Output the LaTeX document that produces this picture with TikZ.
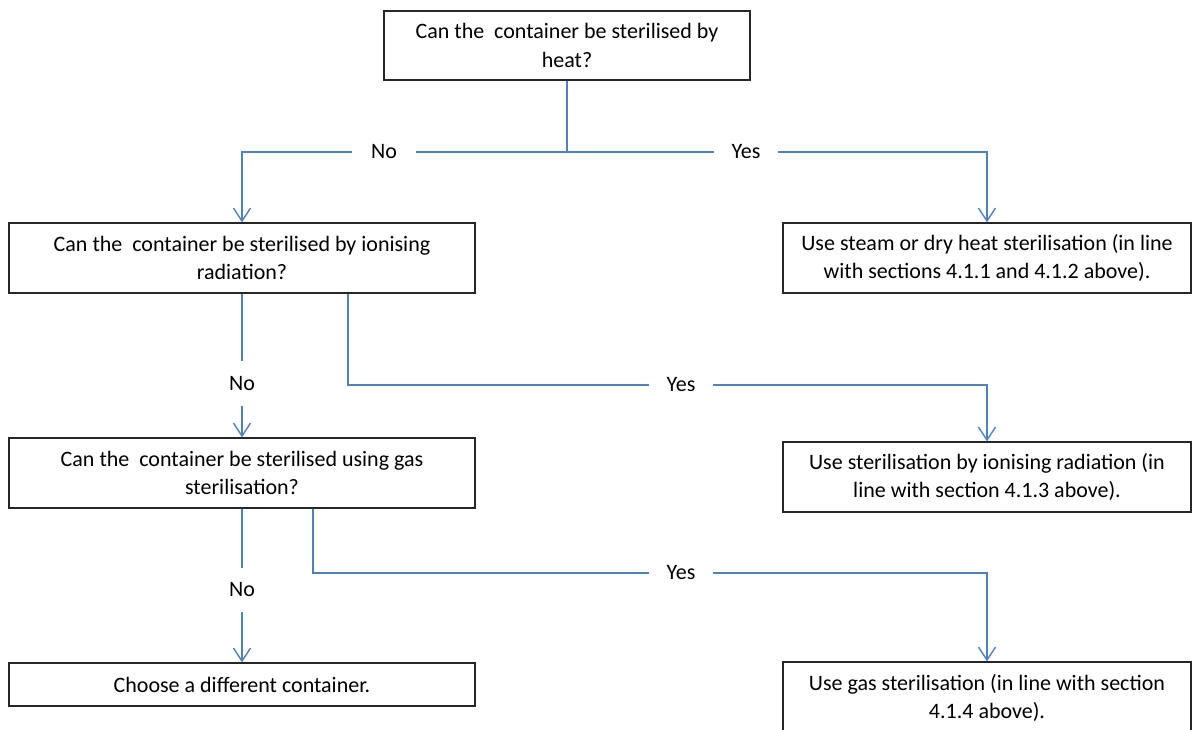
\documentclass[tikz,border=0pt]{standalone}
\usepackage{fontspec}
\setmainfont{Carlito}
\usetikzlibrary{arrows.meta}

\definecolor{linkblue}{RGB}{79,129,189}

\tikzset{
	box/.style={draw=black!85, line width=1.3pt, inner sep=0pt, align=center, font=\fontsize{22}{28.5}\selectfont},
	link/.style={draw=linkblue, line width=1.4pt},
	arr/.style={link, -{Straight Barb[length=13pt,width=17pt,line width=1.4pt]}},
	lbl/.style={inner sep=0pt, minimum width=64pt, minimum height=44pt, font=\fontsize{22}{28.5}\selectfont}
}

\begin{document}
\begin{tikzpicture}[x=1pt, y=-1pt]
		%%%%% START %%%%%
		\useasboundingbox (0,0) rectangle (1192,729);
		
		\node[box, minimum width=366pt, minimum height=69pt] (heat) at (567,45.5) {Can the~ container be sterilised by\\heat?};
		
		\node[box, minimum width=466pt, minimum height=70pt] (ionq) at (242,258) {Can the~ container be sterilised by ionising\\radiation?};
		\node[box, minimum width=408pt, minimum height=70pt] (steam) at (987,258) {Use steam or dry heat sterilisation (in line\\with sections 4.1.1 and 4.1.2 above).};
		
		\node[box, minimum width=466pt, minimum height=70pt] (gasq) at (242,473) {Can the~ container be sterilised using gas\\sterilisation?};
		\node[box, minimum width=408pt, minimum height=70pt] (ionres) at (987,477) {Use sterilisation by ionising radiation (in\\line with section 4.1.3 above).};
		
		\node[box, minimum width=466pt, minimum height=43pt] (other) at (242,684.5) {Choose a different container.};
		\node[box, minimum width=408pt, minimum height=72pt] (gasres) at (987,698) {Use gas sterilisation (in line with section\\4.1.4 above).};
		
		\node[lbl] (no1) at (384,152) {No};
		\node[lbl] (yes1) at (746,152) {Yes};
		\node[lbl] (no2) at (242,383.5) {No};
		\node[lbl] (yes2) at (681,385) {Yes};
		\node[lbl] (no3) at (242,590) {No};
		\node[lbl] (yes3) at (681,573) {Yes};
		
		\coordinate (ionqy) at ([xshift=106pt]ionq.south);
		\coordinate (gasqy) at ([xshift=71pt]gasq.south);
		
		\draw[link] (heat.south) |- (no1);
		\draw[arr] (no1) -| (ionq);
		\draw[link] (heat.south) |- (yes1);
		\draw[arr] (yes1) -| (steam);
		
		\draw[link] (ionq) -- (no2);
		\draw[arr] (no2) -- (gasq);
		\draw[link] (ionqy) |- (yes2);
		\draw[arr] (yes2) -| (ionres);
		
		\draw[link] (gasq) -- (no3);
		\draw[arr] (no3) -- (other);
		\draw[link] (gasqy) |- (yes3);
		\draw[arr] (yes3) -| (gasres);
		
		%%%%% END %%%%%
\end{tikzpicture}
\end{document}
